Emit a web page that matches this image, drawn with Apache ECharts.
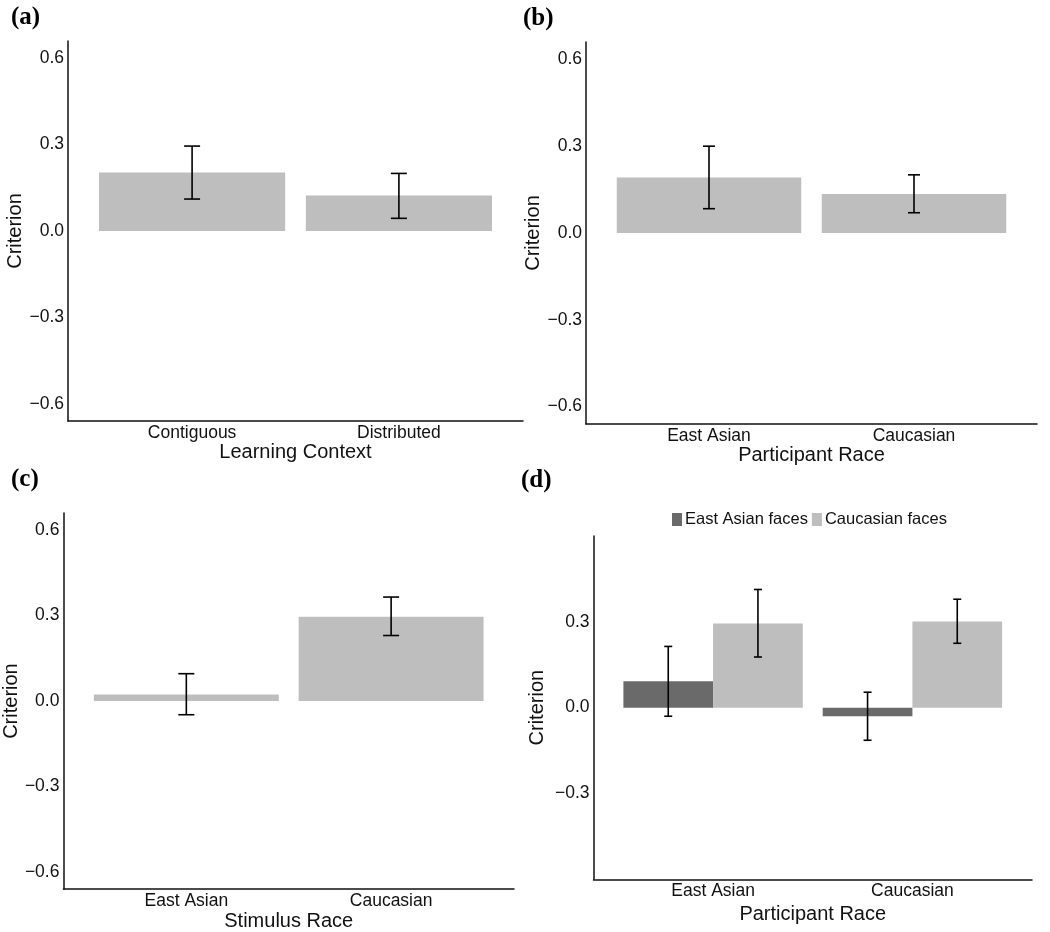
<!DOCTYPE html>
<html>
<head>
<meta charset="utf-8">
<script src="https://cdn.jsdelivr.net/npm/echarts@6/dist/echarts.min.js"></script>
<style>
  html, body { margin: 0; padding: 0; background: #fff; }
  #chart { width: 1050px; height: 932px; }
</style>
</head>
<body>
<div id="chart"></div>
<script>
// ---------- DATA ----------
const panelA_categories = ['Contiguous', 'Distributed'];
const panelA_means = [0.203, 0.123];
const panelA_lower = [0.111, 0.044];
const panelA_upper = [0.295, 0.200];

const panelB_categories = ['East Asian', 'Caucasian'];
const panelB_means = [0.192, 0.135];
const panelB_lower = [0.084, 0.070];
const panelB_upper = [0.300, 0.201];

const panelC_categories = ['East Asian', 'Caucasian'];
const panelC_means = [0.023, 0.296];
const panelC_lower = [-0.048, 0.230];
const panelC_upper = [0.096, 0.365];

const panelD_categories = ['East Asian', 'Caucasian'];
const panelD_seriesNames = ['East Asian faces', 'Caucasian faces'];
const panelD_eastAsianFaces_means = [0.092, -0.030];
const panelD_eastAsianFaces_lower = [-0.030, -0.114];
const panelD_eastAsianFaces_upper = [0.214, 0.054];
const panelD_caucasianFaces_means = [0.294, 0.301];
const panelD_caucasianFaces_lower = [0.177, 0.225];
const panelD_caucasianFaces_upper = [0.413, 0.379];

const yTicksABC = [-0.6, -0.3, 0, 0.3, 0.6];
const yTicksD = [-0.3, 0, 0.3];

const panelLetters = ['(a)', '(b)', '(c)', '(d)'];
const xTitles = ['Learning Context', 'Participant Race', 'Stimulus Race', 'Participant Race'];
const yTitle = 'Criterion';

// ---------- STYLE / LAYOUT ----------
const FONT = 'Liberation Sans, Arial, Helvetica, sans-serif';
const LIGHT = '#BEBEBE';
const DARK = '#6A6A6A';
const grids = [
  { left: 68, top: 41, width: 455, height: 380 },
  { left: 586, top: 42, width: 451, height: 382 },
  { left: 62, top: 513, width: 452, height: 380 },
  { left: 593.5, top: 536, width: 438.5, height: 343.3 }
];
const X_MIN = 0.4, X_MAX = 2.6;
const unitPx = g => g.width / (X_MAX - X_MIN);

function fmtTick(v) {
  const s = Math.abs(v).toFixed(1);
  return (v < -1e-9 ? '\u2212' : '') + s;
}

function xAxisFor(i, cats, nameGap) {
  return {
    type: 'value', gridIndex: i, min: X_MIN, max: X_MAX,
    splitLine: { show: false },
    axisTick: { show: false },
    axisLine: { show: true, onZero: false, lineStyle: { color: '#111', width: 1.5 } },
    axisLabel: {
      customValues: [1, 2],
      formatter: v => cats[Math.round(v) - 1],
      margin: 3, fontSize: 17.5, color: '#111', fontFamily: FONT
    },
    name: xTitles[i], nameLocation: 'middle', nameGap: nameGap,
    nameTextStyle: { fontSize: 20, color: '#111', fontFamily: FONT }
  };
}

function yAxisFor(i, mn, mx, ticks, nameGap) {
  return {
    type: 'value', gridIndex: i, min: mn, max: mx,
    splitLine: { show: false },
    axisTick: { show: false },
    axisLine: { show: true, onZero: false, lineStyle: { color: '#111', width: 1.5 } },
    axisLabel: {
      customValues: ticks, formatter: fmtTick,
      margin: 4, fontSize: 17.5, color: '#111', fontFamily: FONT
    },
    name: yTitle, nameLocation: 'middle', nameGap: nameGap,
    nameTextStyle: { fontSize: 20, color: '#111', fontFamily: FONT }
  };
}

function barSeries(i, name, means, color, widthUnits) {
  return {
    type: 'bar', name: name, xAxisIndex: i, yAxisIndex: i,
    data: means.map((m, k) => [k + 1, m]),
    barWidth: widthUnits * unitPx(grids[i]),
    barGap: '0%',
    itemStyle: { color: color },
    emphasis: { disabled: true },
    silent: true, z: 2
  };
}

function errSeries(i, lower, upper, capPx, offsetUnits) {
  return {
    type: 'custom', xAxisIndex: i, yAxisIndex: i,
    data: lower.map((lo, k) => [k + 1, lo, upper[k]]),
    encode: { x: 0, y: [1, 2] },
    silent: true, z: 5,
    renderItem: function (params, api) {
      const x = api.value(0) + offsetUnits;
      const pLo = api.coord([x, api.value(1)]);
      const pHi = api.coord([x, api.value(2)]);
      const cx = pLo[0], h = capPx / 2;
      const st = { stroke: '#000', lineWidth: 1.6 };
      return {
        type: 'group',
        children: [
          { type: 'line', shape: { x1: cx, y1: pLo[1], x2: cx, y2: pHi[1] }, style: st },
          { type: 'line', shape: { x1: cx - h, y1: pHi[1], x2: cx + h, y2: pHi[1] }, style: st },
          { type: 'line', shape: { x1: cx - h, y1: pLo[1], x2: cx + h, y2: pLo[1] }, style: st }
        ]
      };
    }
  };
}

const option = {
  backgroundColor: '#fff',
  animation: false,
  title: [
    { text: panelLetters[0], left: 11, top: 5 },
    { text: panelLetters[1], left: 523, top: 6 },
    { text: panelLetters[2], left: 11, top: 467 },
    { text: panelLetters[3], left: 521, top: 468 }
  ].map(t => Object.assign(t, {
    padding: 0,
    textStyle: { fontFamily: 'Liberation Serif, Times New Roman, serif', fontWeight: 'bold', fontSize: 25, color: '#000' }
  })),
  legend: {
    data: panelD_seriesNames,
    left: 672, top: 511,
    icon: 'rect', itemWidth: 10, itemHeight: 13, itemGap: 4,
    padding: 0,
    textStyle: { fontSize: 16.5, color: '#111', fontFamily: FONT, padding: [0, 0, 0, -2] },
    selectedMode: false
  },
  grid: grids.map(g => Object.assign({ containLabel: false }, g)),
  xAxis: [
    xAxisFor(0, panelA_categories, 16.5),
    xAxisFor(1, panelB_categories, 17),
    xAxisFor(2, panelC_categories, 16),
    xAxisFor(3, panelD_categories, 25)
  ],
  yAxis: [
    yAxisFor(0, -0.66, 0.66, yTicksABC, 40),
    yAxisFor(1, -0.66, 0.66, yTicksABC, 39),
    yAxisFor(2, -0.66, 0.66, yTicksABC, 39),
    yAxisFor(3, -0.6, 0.6, yTicksD, 46)
  ],
  series: [
    barSeries(0, 'A', panelA_means, LIGHT, 0.9),
    errSeries(0, panelA_lower, panelA_upper, 16, 0),
    barSeries(1, 'B', panelB_means, LIGHT, 0.9),
    errSeries(1, panelB_lower, panelB_upper, 12, 0),
    barSeries(2, 'C', panelC_means, LIGHT, 0.9),
    errSeries(2, panelC_lower, panelC_upper, 16, 0),
    barSeries(3, panelD_seriesNames[0], panelD_eastAsianFaces_means, DARK, 0.45),
    barSeries(3, panelD_seriesNames[1], panelD_caucasianFaces_means, LIGHT, 0.45),
    errSeries(3, panelD_eastAsianFaces_lower, panelD_eastAsianFaces_upper, 8, -0.225),
    errSeries(3, panelD_caucasianFaces_lower, panelD_caucasianFaces_upper, 8, 0.225)
  ]
};

const chart = echarts.init(document.getElementById('chart'), null, { renderer: 'canvas' });
chart.setOption(option);
</script>
</body>
</html>
